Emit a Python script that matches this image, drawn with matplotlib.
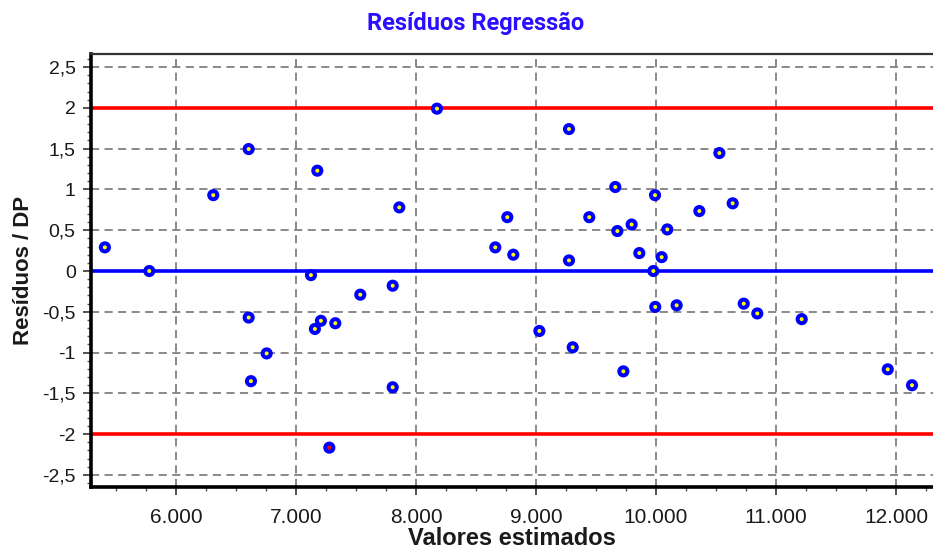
import numpy as np
import matplotlib
matplotlib.use('Agg')
import matplotlib.pyplot as plt
from matplotlib.ticker import MultipleLocator, FuncFormatter

# valores estimados (eixo x) e residuos padronizados (eixo y)
estimados = [5408, 5778, 6311, 6606, 6606, 6625, 6756, 7125, 7158, 7178,
             7208, 7278, 7328, 7536, 7806, 7806, 7861, 8175, 8661, 8761,
             8811, 9028, 9275, 9275, 9306, 9444, 9661, 9678, 9728, 9797,
             9861, 9978, 9992, 9994, 10047, 10094, 10172, 10361, 10528, 10639,
             10731, 10844, 11214, 11931, 12133]
residuos = [0.29, 0.00, 0.93, 1.495, -0.57, -1.35, -1.01, -0.05, -0.71, 1.23,
            -0.61, -2.165, -0.64, -0.29, -0.18, -1.425, 0.78, 1.99, 0.29, 0.66,
            0.20, -0.735, 1.74, 0.13, -0.935, 0.66, 1.03, 0.49, -1.23, 0.57,
            0.22, 0.00, 0.93, -0.44, 0.17, 0.51, -0.42, 0.735, 1.446, 0.83,
            -0.40, -0.52, -0.59, -1.205, -1.40]
limite = 2

titulo = 'Resíduos Regressão'
rotulo_x = 'Valores estimados'
rotulo_y = 'Resíduos / DP'

x = np.array(estimados)
y = np.array(residuos)

plt.rcParams['font.family'] = ['Liberation Sans', 'DejaVu Sans']

fig = plt.figure(figsize=(9.33, 5.54), dpi=100)
ax = fig.add_axes([0.0975, 0.121, 0.9025, 0.7815])

ax.set_xlim(5292, 12308)
ax.set_ylim(-2.647, 2.66)

# grade tracejada
ax.grid(True, which='major', color='#808080', linestyle=(0, (4.5, 3)), linewidth=1.3)
ax.set_axisbelow(True)

# linhas de referencia
ax.axhline(limite, color='#ff0000', linewidth=2.6, zorder=2)
ax.axhline(-limite, color='#ff0000', linewidth=2.6, zorder=2)
ax.axhline(0, color='#0000ff', linewidth=2.6, zorder=2)

# pontos: miolo amarelo, vermelho quando fora dos limites
cores = np.where(np.abs(y) > limite, '#ff0000', '#ffff00')
ax.scatter(x, y, s=34, c=cores, edgecolors='#0000ff', linewidths=2.9, zorder=3)

ax.xaxis.set_major_locator(MultipleLocator(1000))
ax.xaxis.set_minor_locator(MultipleLocator(250))
ax.yaxis.set_major_locator(MultipleLocator(0.5))
ax.yaxis.set_minor_locator(MultipleLocator(0.1))

ax.xaxis.set_major_formatter(FuncFormatter(lambda v, p: '{:,.0f}'.format(v).replace(',', '.')))
ax.yaxis.set_major_formatter(FuncFormatter(lambda v, p: ('%g' % round(v, 2)).replace('.', ',')))

ax.tick_params(which='major', direction='out', length=6, width=1.2, color='#333333',
               labelcolor='#1a1a1a')
ax.tick_params(which='minor', direction='out', length=3, width=1.0, color='#555555')
ax.tick_params(axis='x', which='major', pad=9, labelsize=15)
ax.tick_params(axis='y', which='major', pad=5, labelsize=14)

for s in ['left', 'bottom']:
    ax.spines[s].set_linewidth(2.6)
    ax.spines[s].set_color('black')
ax.spines['top'].set_linewidth(1.6)
ax.spines['top'].set_color('#333333')
ax.spines['right'].set_visible(False)

ax.set_xlabel(rotulo_x, fontsize=17, fontweight='bold', color='#1a1a1a', labelpad=0)
ax.set_ylabel(rotulo_y, fontsize=16, fontweight='bold', color='#1a1a1a', labelpad=6)

fig.text(0.51, 0.958, titulo, ha='center', va='center', color='#2a10ff',
         fontsize=17, fontweight='bold', family=['Roboto', 'DejaVu Sans'])

fig.savefig('out.png', dpi=100)
